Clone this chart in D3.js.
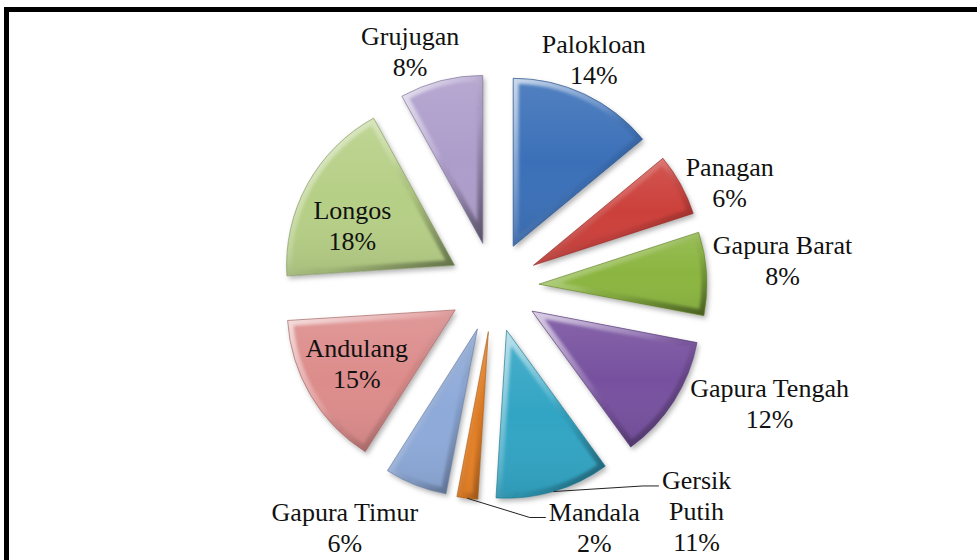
<!DOCTYPE html>
<html>
<head>
<meta charset="utf-8">
<script src="https://cdn.jsdelivr.net/npm/d3@7"></script>
<style>
  body { margin: 0; background: #fff; }
</style>
</head>
<body>
<div id="grafico"></div>
<script>
// Data: share of each desa (percent)
const desa = ['Palokloan', 'Panagan', 'Gapura Barat', 'Gapura Tengah', 'Gersik Putih',
              'Mandala', 'Gapura Timur', 'Andulang', 'Longos', 'Grujugan'];
const persen = [14, 6, 8, 12, 11, 2, 6, 15, 18, 8];
const warna = ['#3a6fb8', '#cc3f3a', '#8bb53f', '#77519f', '#33a5c4',
               '#ea8227', '#8eaad9', '#dc8c8b', '#b6cf86', '#ad9dcb'];

function criarGraficoPie() {
  const largura = 977;
  const altura = 560;
  const cx = 494, cy = 287;
  const raio = 168;
  const explode = 45;
  const lh = 31;
  const fonte = "'Liberation Serif', 'Times New Roman', Times, 'DejaVu Serif', serif";

  // labels that sit inside the slice, labels with a leader line, wrapped names
  const dentro = new Set(['Andulang', 'Longos']);
  const comLinha = new Set(['Gersik Putih', 'Mandala']);
  const quebra = { 'Gersik Putih': ['Gersik', 'Putih'] };
  // small nudges of the label block from its polar anchor
  const ajuste = {
    'Palokloan': [-8, 2], 'Panagan': [14, 18], 'Gapura Barat': [36, -10],
    'Gapura Tengah': [62, -18], 'Gersik Putih': [132, -18], 'Mandala': [132, -10],
    'Gapura Timur': [-56, 6], 'Andulang': [-3, -2], 'Longos': [-5, 15], 'Grujugan': [-21, 11]
  };

  const svg = d3.select('#grafico').append('svg')
    .attr('width', largura).attr('height', altura);

  const defs = svg.append('defs');
  const sombra = defs.append('filter').attr('id', 'sombra')
    .attr('x', '-20%').attr('y', '-20%').attr('width', '140%').attr('height', '140%');
  sombra.append('feDropShadow').attr('dx', 2).attr('dy', 3)
    .attr('stdDeviation', 2.5).attr('flood-color', '#000').attr('flood-opacity', 0.3);

  defs.append('filter').attr('id', 'blur').append('feGaussianBlur').attr('stdDeviation', 1.6);

  const bevel = defs.append('linearGradient').attr('id', 'bevel')
    .attr('x1', 0).attr('y1', 0).attr('x2', 1).attr('y2', 1);
  [[0, '#fff', 0.7], [0.45, '#fff', 0.15], [0.6, '#000', 0.05], [1, '#000', 0.45]].forEach(s => {
    bevel.append('stop').attr('offset', s[0]).attr('stop-color', s[1]).attr('stop-opacity', s[2]);
  });

  const kilau = defs.append('linearGradient').attr('id', 'kilau')
    .attr('x1', 0).attr('y1', 0).attr('x2', 0).attr('y2', 1);
  [[0, '#fff', 0.12], [0.5, '#fff', 0], [1, '#000', 0.08]].forEach(s => {
    kilau.append('stop').attr('offset', s[0]).attr('stop-color', s[1]).attr('stop-opacity', s[2]);
  });

  // frame: thick line on top and left only
  svg.append('path').attr('d', `M6.5,${altura} V9.5 H${largura}`)
    .attr('fill', 'none').attr('stroke', '#000').attr('stroke-width', 5);

  const pie = d3.pie().sort(null).value(d => d);
  const arc = d3.arc().innerRadius(0).outerRadius(raio);
  const arcos = pie(persen);
  const meio = d => (d.startAngle + d.endAngle) / 2;

  const g = svg.append('g').attr('transform', `translate(${cx},${cy})`);

  const fatias = g.selectAll('g.fatia').data(arcos).join('g')
    .attr('class', 'fatia')
    .attr('transform', d => `translate(${Math.sin(meio(d)) * explode},${-Math.cos(meio(d)) * explode})`);

  fatias.append('clipPath').attr('id', (d, i) => 'clip' + i)
    .append('path').attr('d', arc);

  fatias.append('path').attr('d', arc)
    .attr('fill', (d, i) => warna[i]).attr('filter', 'url(#sombra)');
  fatias.append('path').attr('d', arc).attr('fill', 'url(#kilau)');
  fatias.append('path').attr('d', arc)
    .attr('fill', 'none').attr('stroke', 'url(#bevel)').attr('stroke-width', 11)
    .attr('stroke-linejoin', 'round')
    .attr('clip-path', (d, i) => `url(#clip${i})`).attr('filter', 'url(#blur)');
  fatias.append('path').attr('d', arc)
    .attr('fill', 'none').attr('stroke', (d, i) => d3.color(warna[i]).darker(0.9))
    .attr('stroke-width', 0.8).attr('stroke-opacity', 0.8);

  // labels
  arcos.forEach((d, i) => {
    const nome = desa[i];
    const a = meio(d);
    const r = dentro.has(nome) ? explode + raio * 0.66 : explode + raio + 40;
    const [nx, ny] = ajuste[nome] || [0, 0];
    const lx = Math.sin(a) * r + nx;
    const ly = -Math.cos(a) * r + ny;
    const linhas = (quebra[nome] || [nome]).concat([`${persen[i]}%`]);
    const y0 = ly + 8 - (linhas.length - 1) * lh / 2;

    const txt = g.append('text')
      .attr('text-anchor', 'middle')
      .attr('font-family', fonte)
      .attr('font-size', 26)
      .attr('fill', '#111');
    linhas.forEach((t, k) => {
      txt.append('tspan').attr('x', lx).attr('y', y0 + k * lh).text(t);
    });

    if (comLinha.has(nome)) {
      const w = txt.select('tspan').node().getComputedTextLength();
      const ex = Math.sin(a) * explode, ey = -Math.cos(a) * explode;
      const p0 = [ex + Math.sin(a) * raio, ey - Math.cos(a) * raio];
      const yl = y0 - 3;
      const xl = lx - w / 2 - 3;
      g.append('polyline')
        .attr('points', [p0, [xl - 16, yl], [xl, yl]].map(p => p.join(',')).join(' '))
        .attr('fill', 'none').attr('stroke', '#222').attr('stroke-width', 1);
    }
  });
}

criarGraficoPie();
</script>
</body>
</html>
